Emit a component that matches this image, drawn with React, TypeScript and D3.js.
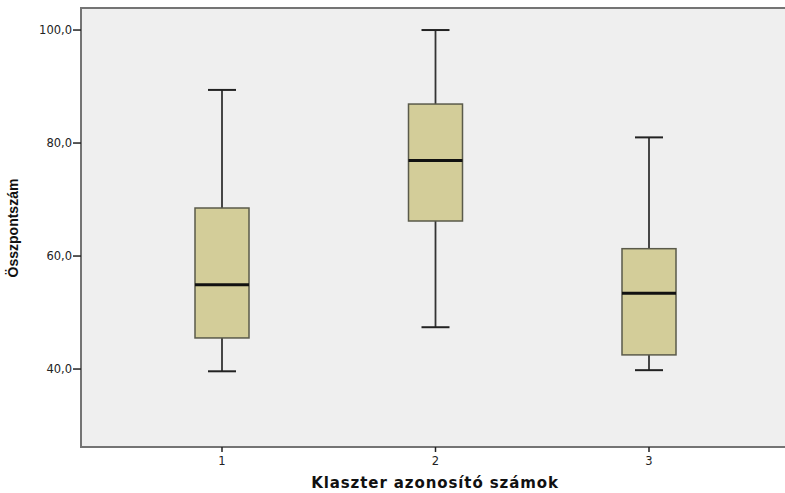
import React from "react";
import * as d3 from "d3";

const categories = ["1", "2", "3"];
const lowerWhisker = [39.6, 47.4, 39.8];
const q1 = [45.5, 66.2, 42.5];
const median = [54.9, 76.9, 53.4];
const q3 = [68.5, 86.9, 61.3];
const upperWhisker = [89.4, 100.0, 81.0];
const yTicks = [40, 60, 80, 100];

const W = 785;
const H = 493;
const left = 81;
const top = 8;
const bottom = 447;
const right = 792;

export default function App() {
  const y = d3.scaleLinear().domain([26.2, 103.9]).range([bottom, top]);
  const x = d3.scalePoint<string>().domain(categories).range([222, 649]);
  const fmt = (v: number) => v.toFixed(1).replace(".", ",");
  const boxW = 54;
  const capW = 28;
  return (
    <svg width={W} height={H} style={{ position: "absolute", left: 0, top: 0 }}>
      <rect x={0} y={0} width={W} height={H} fill="#ffffff" />
      <rect x={left} y={top} width={right - left} height={bottom - top} fill="#efefef" stroke="#747474" strokeWidth={2} />
      {yTicks.map((t) => (
        <g key={t}>
          <line x1={left - 8} x2={left} y1={y(t)} y2={y(t)} stroke="#222" strokeWidth={1.5} />
          <text x={left - 9} y={y(t)} dy="0.35em" textAnchor="end" fontFamily="DejaVu Sans, Verdana, sans-serif" fontSize={11.5} fill="#222">
            {fmt(t)}
          </text>
        </g>
      ))}
      {categories.map((c) => (
        <g key={c}>
          <line x1={x(c)!} x2={x(c)!} y1={bottom} y2={bottom + 5} stroke="#222" strokeWidth={1.5} />
          <text x={x(c)!} y={bottom + 18} textAnchor="middle" fontFamily="DejaVu Sans, Verdana, sans-serif" fontSize={11.5} fill="#222">
            {c}
          </text>
        </g>
      ))}
      {categories.map((c, i) => {
        const cx = x(c)!;
        return (
          <g key={"b" + c}>
            <line x1={cx} x2={cx} y1={y(upperWhisker[i])} y2={y(q3[i])} stroke="#333" strokeWidth={1.8} />
            <line x1={cx} x2={cx} y1={y(q1[i])} y2={y(lowerWhisker[i])} stroke="#333" strokeWidth={1.8} />
            <line x1={cx - capW / 2} x2={cx + capW / 2} y1={y(upperWhisker[i])} y2={y(upperWhisker[i])} stroke="#222" strokeWidth={2} />
            <line x1={cx - capW / 2} x2={cx + capW / 2} y1={y(lowerWhisker[i])} y2={y(lowerWhisker[i])} stroke="#222" strokeWidth={2} />
            <rect x={cx - boxW / 2} y={y(q3[i])} width={boxW} height={y(q1[i]) - y(q3[i])} fill="#d3cd99" stroke="#5a5a4a" strokeWidth={1.5} />
            <line x1={cx - boxW / 2} x2={cx + boxW / 2} y1={y(median[i])} y2={y(median[i])} stroke="#111" strokeWidth={3} />
          </g>
        );
      })}
      <text x={435} y={488} textAnchor="middle" fontFamily="DejaVu Sans, Verdana, sans-serif" fontWeight="bold" fontSize={15} letterSpacing={0.9} fill="#111">
        Klaszter azonosító számok
      </text>
      <text transform={`translate(18,228) rotate(-90)`} textAnchor="middle" fontFamily="Liberation Sans, Arial, sans-serif" fontWeight="bold" fontSize={14} fill="#111">
        Összpontszám
      </text>
    </svg>
  );
}
